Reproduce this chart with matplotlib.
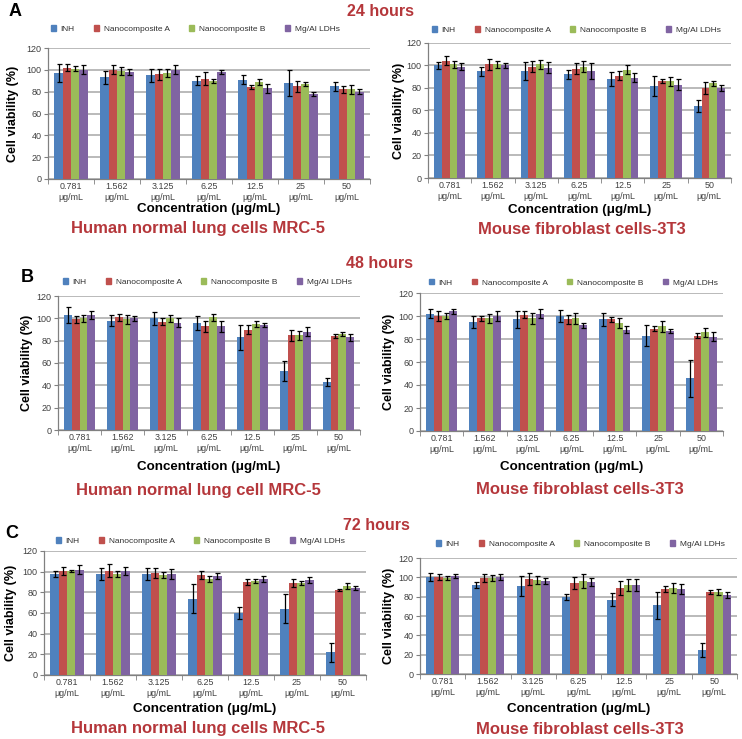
import matplotlib.pyplot as plt
from matplotlib.patches import Patch

plt.rcParams['font.family'] = ['Liberation Sans', 'DejaVu Sans']

W, H = 742, 739

concentrations = ['0.781', '1.562', '3.125', '6.25', '12.5', '25', '50']
series = ['INH', 'Nanocomposite A', 'Nanocomposite B', 'Mg/Al LDHs']
colors = ['#4f81bd', '#c0504d', '#9bbb59', '#8064a2']
title_red = '#b5373b'

# 24 hours, MRC-5
a_mrc_mean = [[97, 93, 95, 90, 91, 88, 85],
              [102, 100, 96, 92, 84, 85, 82],
              [101, 99, 97, 90, 89, 87, 82],
              [100, 98, 100, 98, 83, 78, 80]]
a_mrc_err = [[8, 6, 6, 4, 4, 12, 4],
             [3, 4, 5, 6, 2, 5, 3],
             [2.5, 4, 4, 2, 3, 2, 4],
             [4, 3, 4, 2, 4, 2, 2]]
# 24 hours, 3T3
a_3t3_mean = [[100, 95, 95, 92, 88, 82, 64],
              [104, 101, 99, 97, 91, 86, 80],
              [101, 101, 101, 99, 96, 86, 84],
              [99, 100, 98, 95, 89, 83, 80]]
a_3t3_err = [[3, 4, 8, 4, 6, 9, 5],
             [4, 5, 5, 5, 4, 2, 5],
             [3, 3, 4, 5, 4, 4, 2],
             [3, 2, 5, 7, 4, 5, 3]]
# 48 hours, MRC-5
b_mrc_mean = [[103, 98, 100, 96, 83, 53, 43],
              [99, 101, 97, 93, 90, 85, 84],
              [100, 99, 100, 101, 95, 85, 86],
              [103, 100, 96, 93, 94, 88, 83]]
b_mrc_err = [[7, 5, 6, 6, 11, 9, 4],
             [3, 3, 3, 5, 4, 5, 2],
             [3, 4, 3, 3, 3, 4, 2],
             [4, 2, 4, 5, 2, 4, 3]]
# 48 hours, 3T3
b_3t3_mean = [[102, 95, 97, 100, 97, 83, 46],
              [100, 98, 101, 97, 97, 89, 83],
              [100, 98, 98, 98, 94, 91, 86],
              [104, 100, 102, 92, 88, 87, 82]]
b_3t3_err = [[4, 5, 7, 5, 6, 9, 16],
             [4, 2, 3, 4, 2, 2, 2],
             [3, 4, 5, 5, 4, 5, 4],
             [2, 4, 4, 2, 3, 2, 4]]
# 72 hours, MRC-5
c_mrc_mean = [[98, 98, 98, 74, 60, 64, 22],
              [101, 101, 99, 97, 90, 89, 82],
              [101, 98, 97, 93, 91, 89, 86],
              [102, 101, 98, 96, 93, 92, 84]]
c_mrc_err = [[3, 6, 6, 14, 6, 14, 9],
             [4, 6, 5, 4, 3, 4, 1],
             [1, 3, 3, 3, 2, 2, 3],
             [4, 4, 5, 3, 3, 3, 2]]
# 72 hours, 3T3
c_3t3_mean = [[100, 92, 91, 80, 77, 71, 25],
              [100, 99, 98, 94, 89, 88, 85],
              [99, 99, 97, 96, 92, 89, 85],
              [101, 100, 96, 95, 92, 88, 82]]
c_3t3_err = [[4, 3, 10, 3, 7, 14, 7],
             [3, 4, 6, 6, 7, 3, 2],
             [2, 3, 4, 7, 6, 5, 3],
             [2, 3, 3, 4, 6, 5, 3]]

fig = plt.figure(figsize=(W / 100, H / 100), dpi=100)


def fx(x):
    return x / W


def fy(y):
    return 1 - y / H


def panel(mean, err, box, legend_c, ylab_x, xlab_y, sub_y, sub_x, subtitle):
    left, right, top, bottom = box
    ax = fig.add_axes([fx(left), fy(bottom), (right - left) / W, (bottom - top) / H])
    bw = 0.18
    n = len(concentrations)
    for k in range(4):
        xs = [i + (k - 1.5) * bw for i in range(n)]
        ax.bar(xs, mean[k], width=bw, color=colors[k], zorder=3)
        ax.errorbar(xs, mean[k], yerr=err[k], fmt='none', ecolor='black',
                    elinewidth=0.9, capsize=1.8, capthick=0.9, zorder=4)
    ax.set_xlim(-0.5, n - 0.5)
    ax.set_ylim(0, 120)
    ax.set_yticks(range(0, 121, 20))
    ax.yaxis.grid(True, color='#bababa', linewidth=1.4, zorder=0)
    ax.set_xticks(range(n))
    ax.set_xticklabels([c + '\nμg/mL' for c in concentrations], fontsize=6.4,
                       color='#404040', linespacing=1.2)
    ax.set_xticks([i - 0.5 for i in range(n + 1)], minor=True)
    ax.tick_params(axis='x', which='major', length=0, pad=2.5)
    ax.tick_params(axis='x', which='minor', length=3.5, color='#808080', direction='out')
    ax.tick_params(axis='y', length=3, color='#808080', labelsize=6.5,
                   labelcolor='#404040', pad=1.5)
    for s in ('top', 'right'):
        ax.spines[s].set_visible(False)
    for s in ('left', 'bottom'):
        ax.spines[s].set_color('#808080')
        ax.spines[s].set_linewidth(0.9)
    handles = [Patch(color=c) for c in colors]
    fig.legend(handles, series, loc='center', ncol=4, frameon=False,
               bbox_to_anchor=(fx(legend_c[0]), fy(legend_c[1])),
               fontsize=6.0, handlelength=0.6, handleheight=0.6,
               handletextpad=0.6, columnspacing=2.3, labelcolor='#303030')
    fig.text(fx(ylab_x), fy((top + bottom) / 2), 'Cell viability (%)', rotation=90,
             ha='center', va='center', fontsize=9, fontweight='bold')
    fig.text(fx((left + right) / 2), fy(xlab_y), 'Concentration (μg/mL)',
             ha='center', va='center', fontsize=9.6, fontweight='bold')
    fig.text(fx(sub_x), fy(sub_y), subtitle, ha='center', va='center',
             fontsize=12, fontweight='bold', color=title_red)
    return ax


# row A
panel(a_mrc_mean, a_mrc_err, (48, 370, 48, 179), (195, 29), 13, 209, 229, 198,
      'Human normal lung cells MRC-5')
panel(a_3t3_mean, a_3t3_err, (428, 731, 43, 178), (576, 30), 399, 210, 230, 582,
      'Mouse fibroblast cells-3T3')
# row B
panel(b_mrc_mean, b_mrc_err, (58, 360, 296, 430), (207, 282), 27, 467, 490, 198,
      'Human normal lung cell MRC-5')
panel(b_3t3_mean, b_3t3_err, (420, 723, 293, 431), (573, 283), 389, 467, 490, 580,
      'Mouse fibroblast cells-3T3')
# row C
panel(c_mrc_mean, c_mrc_err, (44, 366, 551, 675), (200, 541), 11, 709, 728, 198,
      'Human normal lung cells MRC-5')
panel(c_3t3_mean, c_3t3_err, (420, 737, 558, 674), (580, 544), 389, 709, 730, 580,
      'Mouse fibroblast cells-3T3')

for letter, (x, y) in zip('ABC', [(15, 12), (27, 277), (12, 533)]):
    fig.text(fx(x), fy(y), letter, ha='center', va='center', fontsize=13,
             fontweight='bold')
for label, (x, y) in zip(['24 hours', '48 hours', '72 hours'],
                         [(380, 12), (379, 264), (376, 525)]):
    fig.text(fx(x), fy(y), label, ha='center', va='center', fontsize=11.5,
             fontweight='bold', color=title_red)

fig.savefig('out.png', dpi=100, facecolor='white')
